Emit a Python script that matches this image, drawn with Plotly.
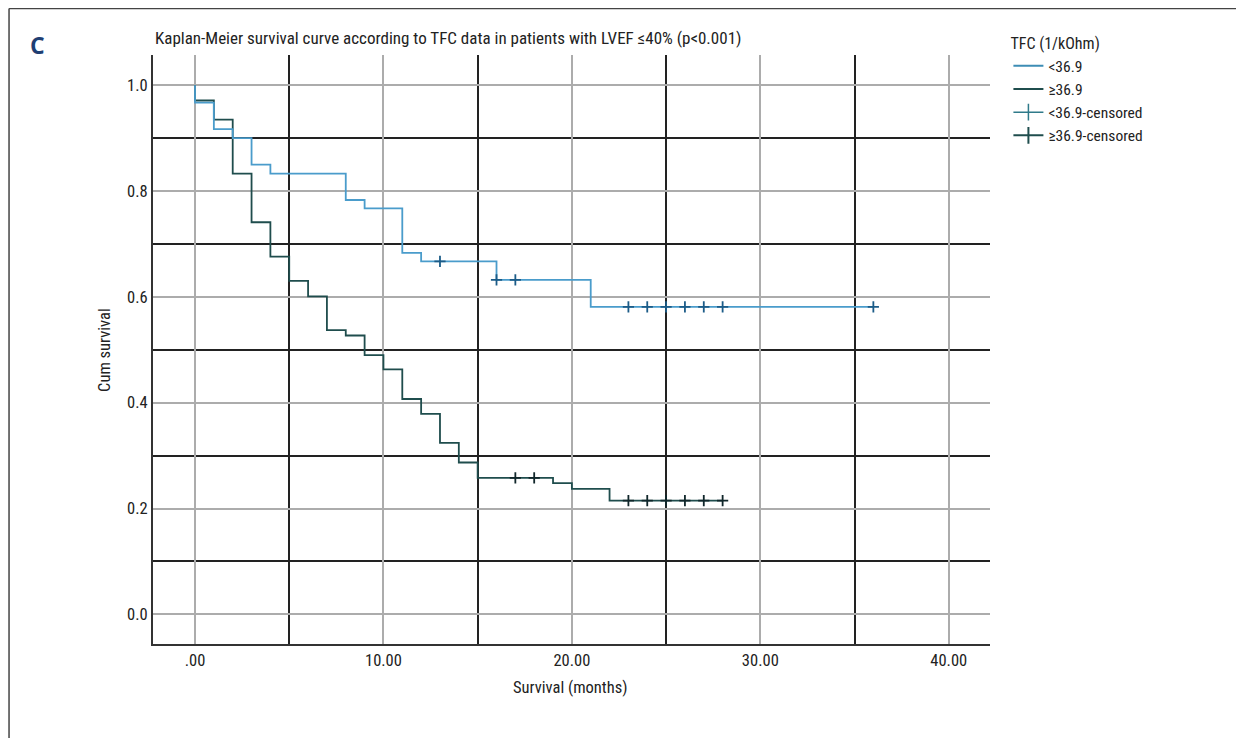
import plotly.graph_objects as go
import numpy as np

# ---------------- data ----------------
group_names = ["<36.9", "≥36.9"]

low_event_times = [0, 1, 2, 3, 4, 8, 9, 11, 12, 16, 21]
low_survival = [0.967, 0.917, 0.900, 0.850, 0.833, 0.783, 0.767, 0.683, 0.667, 0.632, 0.581]
low_last_time = 36
low_censor_times = [13, 16, 17, 23, 24, 25, 26, 27, 28, 36]

high_event_times = [0, 1, 2, 3, 4, 5, 6, 7, 8, 9, 10, 11, 12, 13, 14, 15, 19, 20, 22]
high_survival = [0.971, 0.935, 0.833, 0.741, 0.676, 0.630, 0.601, 0.537, 0.527, 0.490,
                 0.463, 0.407, 0.379, 0.324, 0.287, 0.258, 0.248, 0.237, 0.215]
high_last_time = 28
high_censor_times = [17, 18, 23, 24, 25, 26, 27, 28]

x_tick_vals = [0, 10, 20, 30, 40]
x_tick_text = [".00", "10.00", "20.00", "30.00", "40.00"]
y_tick_vals = [0.0, 0.2, 0.4, 0.6, 0.8, 1.0]
y_tick_text = ["0.0", "0.2", "0.4", "0.6", "0.8", "1.0"]

# ---------------- helpers ----------------
def step_xy(times, surv, last):
    xs = [0] + list(times) + [last]
    ys = [1.0] + list(surv) + [surv[-1]]
    return xs, ys

def surv_at(t, times, surv):
    s = 1.0
    for tt, ss in zip(times, surv):
        if tt <= t:
            s = ss
    return s

FONT = "Liberation Sans Narrow, Roboto Condensed, Arial Narrow, Liberation Sans, sans-serif"
FS = 16.5
LOW_COLOR = "#4a9ccb"
HIGH_COLOR = "#1f4d4d"
LOW_CENS = "#1c5c88"
HIGH_CENS = "#10262a"

fig = go.Figure()

lx, ly = step_xy(low_event_times, low_survival, low_last_time)
hx, hy = step_xy(high_event_times, high_survival, high_last_time)

fig.add_trace(go.Scatter(x=hx, y=hy, mode="lines", line=dict(color=HIGH_COLOR, width=1.8, shape="hv"),
                         showlegend=False, hoverinfo="skip"))
fig.add_trace(go.Scatter(x=lx, y=ly, mode="lines", line=dict(color=LOW_COLOR, width=1.8, shape="hv"),
                         showlegend=False, hoverinfo="skip"))

fig.add_trace(go.Scatter(x=low_censor_times,
                         y=[surv_at(t, low_event_times, low_survival) for t in low_censor_times],
                         mode="markers",
                         marker=dict(symbol="cross-thin", size=8, line=dict(color=LOW_CENS, width=1.8)),
                         showlegend=False))
fig.add_trace(go.Scatter(x=high_censor_times,
                         y=[surv_at(t, high_event_times, high_survival) for t in high_censor_times],
                         mode="markers",
                         marker=dict(symbol="cross-thin", size=8, line=dict(color=HIGH_CENS, width=1.8)),
                         showlegend=False))

# legend entries
fig.add_trace(go.Scatter(x=[None], y=[None], mode="lines", name=group_names[0],
                         line=dict(color="#3d8db5", width=2)))
fig.add_trace(go.Scatter(x=[None], y=[None], mode="lines", name=group_names[1],
                         line=dict(color=HIGH_COLOR, width=2)))
fig.add_trace(go.Scatter(x=[None], y=[None], mode="lines+markers", name=group_names[0] + "-censored",
                         line=dict(color="#2f7a8a", width=1.5),
                         marker=dict(symbol="line-ns", size=12, line=dict(color="#2f7a8a", width=1.5))))
fig.add_trace(go.Scatter(x=[None], y=[None], mode="lines+markers", name=group_names[1] + "-censored",
                         line=dict(color=HIGH_COLOR, width=2),
                         marker=dict(symbol="line-ns", size=12, line=dict(color=HIGH_COLOR, width=2))))

fig.update_layout(
    width=1244, height=738,
    margin=dict(l=145, r=262, t=47, b=102),
    paper_bgcolor="white", plot_bgcolor="white",
    font=dict(family=FONT, size=FS, color="#222"),
    showlegend=True,
    legend=dict(x=1.022, y=1.045, xanchor="left", yanchor="top",
                title=dict(text="TFC (1/kOhm)", font=dict(size=16)),
                font=dict(size=15.5), tracegroupgap=0, itemwidth=30,
                bgcolor="rgba(0,0,0,0)"),
    xaxis=dict(range=[-2.23, 42.19], tickvals=x_tick_vals, ticktext=x_tick_text,
               showgrid=True, gridcolor="#acacac", gridwidth=1.5,
               minor=dict(dtick=5, tick0=0, showgrid=True, gridcolor="#222", gridwidth=2),
               showline=True, linecolor="#333", linewidth=2, zeroline=False, ticks="",
               tickfont=dict(size=FS)),
    yaxis=dict(range=[-0.056, 1.057], tickvals=y_tick_vals, ticktext=y_tick_text,
               showgrid=True, gridcolor="#acacac", gridwidth=1.5,
               minor=dict(dtick=0.1, tick0=0, showgrid=True, gridcolor="#222", gridwidth=2),
               showline=True, linecolor="#333", linewidth=2, zeroline=False, ticks="",
               tickfont=dict(size=FS)),
)

fig.add_annotation(x=0, y=1.029, xref="paper", yref="paper", xanchor="left", yanchor="middle",
                   text="Kaplan-Meier survival curve according to TFC data in patients with LVEF ≤40% (p<0.001)",
                   showarrow=False, font=dict(size=17, color="#222"))
fig.add_annotation(x=-0.149, y=1.017, xref="paper", yref="paper", xanchor="left", yanchor="middle",
                   text="<b>C</b>", showarrow=False,
                   font=dict(size=23, color="#1f3f73", family="Open Sans, sans-serif"))
fig.add_annotation(x=-0.058, y=0.5, xref="paper", yref="paper", xanchor="center", yanchor="middle",
                   text="Cum survival", textangle=-90, showarrow=False, font=dict(size=FS, color="#222"))
fig.add_annotation(x=(570 - 153) / 837, y=-0.0747, xref="paper", yref="paper", xanchor="center",
                   yanchor="middle", text="Survival (months)", showarrow=False,
                   font=dict(size=FS, color="#222"))

# frame lines of the figure panel
fig.add_shape(type="line", xref="paper", yref="paper", x0=-0.172, x1=-0.172, y0=1.079, y1=-0.2,
              line=dict(color="#444", width=1.5))
fig.add_shape(type="line", xref="paper", yref="paper", x0=-0.172, x1=1.32, y0=1.079, y1=1.079,
              line=dict(color="#444", width=1.5))

fig.write_html("out.html")
